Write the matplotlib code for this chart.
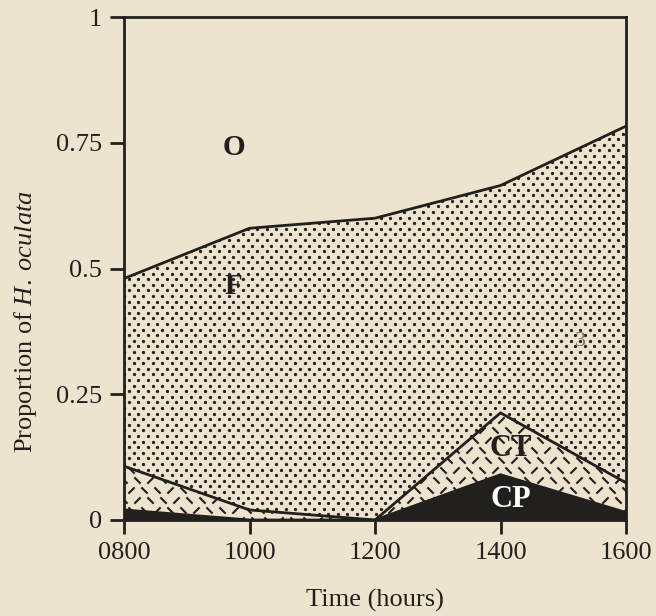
import numpy as np
import matplotlib.pyplot as plt
from matplotlib.path import Path

plt.rcParams['font.family'] = ['Liberation Serif', 'DejaVu Serif']
plt.rcParams['mathtext.fontset'] = 'custom'
plt.rcParams['mathtext.it'] = 'Liberation Serif:italic'
plt.rcParams['mathtext.rm'] = 'Liberation Serif'

# time of day (hours, as clock values)
times = [800, 1000, 1200, 1400, 1600]
tick_labels = ['0800', '1000', '1200', '1400', '1600']

# proportions of each behaviour class (stacked from the bottom)
cp = [0.02, 0.0, 0.0, 0.09, 0.015]
ct = [0.087, 0.02, 0.0, 0.123, 0.059]
f = [0.373, 0.56, 0.60, 0.452, 0.709]

bg = '#ece4cf'
ink = '#231f1c'

cp = np.array(cp)
top_ct = cp + np.array(ct)
top_f = top_ct + np.array(f)

W, H = 656, 616
fig = plt.figure(figsize=(W / 100, H / 100), dpi=100, facecolor=bg)
axw, axh = 502, 503
ax = fig.add_axes([124 / W, 96 / H, axw / W, axh / H])
ax.set_facecolor(bg)

ax.fill_between(times, 0, cp, color=ink, lw=0)
ct_patch = ax.fill_between(times, cp, top_ct, facecolor=bg, lw=0)
f_patch = ax.fill_between(times, top_ct, top_f, facecolor=bg, lw=0)

# stipple texture for F (staggered dot grid, in axes pixels)
dx, dy = 9.5, 5.6
pts = [(x + (i % 2) * dx / 2, y) for i, y in enumerate(np.arange(0, axh, dy))
       for x in np.arange(0, axw + dx, dx)]
pts = np.array(pts)
dots = ax.scatter(pts[:, 0] / axw, pts[:, 1] / axh, s=5.5, color=ink, lw=0,
                  transform=ax.transAxes, zorder=1)
dots.set_clip_path(f_patch.get_paths()[0], ax.transData)

# dash texture for CT (short strokes in two directions)
back = Path([(-1, 1), (1, -1)], [Path.MOVETO, Path.LINETO])
fwd = Path([(-1, -1), (1, 1)], [Path.MOVETO, Path.LINETO])
ex, ey = 13, 10
groups = {0: [], 1: []}
for i, y in enumerate(np.arange(0, axh, ey)):
    for j, x in enumerate(np.arange(0, axw + ex, ex)):
        groups[(i + j) % 3 == 0].append((x + (i % 2) * ex / 2, y))
for k, mk in ((0, back), (1, fwd)):
    g = np.array(groups[k])
    ln, = ax.plot(g[:, 0] / axw, g[:, 1] / axh, ls='none', marker=mk, ms=4.5,
                  mew=1.5, mec=ink, transform=ax.transAxes, zorder=1)
    ln.set_clip_path(ct_patch.get_paths()[0], ax.transData)

for y in (cp, top_ct, top_f):
    ax.plot(times, y, color=ink, lw=2, zorder=3)

ax.text(975, 0.74, 'O', fontsize=21, fontweight='bold', color=ink, ha='center', va='center', zorder=4)
ax.text(975, 0.465, 'F', fontsize=21, fontweight='bold', color=ink, ha='center', va='center', zorder=4)
ax.text(1528, 0.355, '3', fontsize=16, color='#7d7466', ha='center', va='center', zorder=4)
ax.text(1416, 0.143, 'CT', fontsize=22, fontweight='bold', color=ink, ha='center', va='center', zorder=4)
ax.text(1416, 0.04, 'CP', fontsize=22, fontweight='bold', color='white', ha='center', va='center', zorder=4)

ax.set_xlim(800, 1600)
ax.set_ylim(0, 1)
ax.set_xticks(times)
ax.set_xticklabels(tick_labels)
ax.set_yticks([0, 0.25, 0.5, 0.75, 1])
ax.set_yticklabels(['0', '0.25', '0.5', '0.75', '1'])
ax.tick_params(length=10, width=2, color=ink, labelcolor=ink, labelsize=19, pad=6)
for s in ax.spines.values():
    s.set_linewidth(2)
    s.set_color(ink)
    s.set_zorder(5)

ax.set_xlabel('Time (hours)', fontsize=19, color=ink, labelpad=18)
ax.set_ylabel(r'Proportion of $\mathit{H.\;oculata}$', fontsize=19, color=ink)
ax.yaxis.set_label_coords(-0.17, 0.394)

fig.savefig('out.png', dpi=100, facecolor=bg)
